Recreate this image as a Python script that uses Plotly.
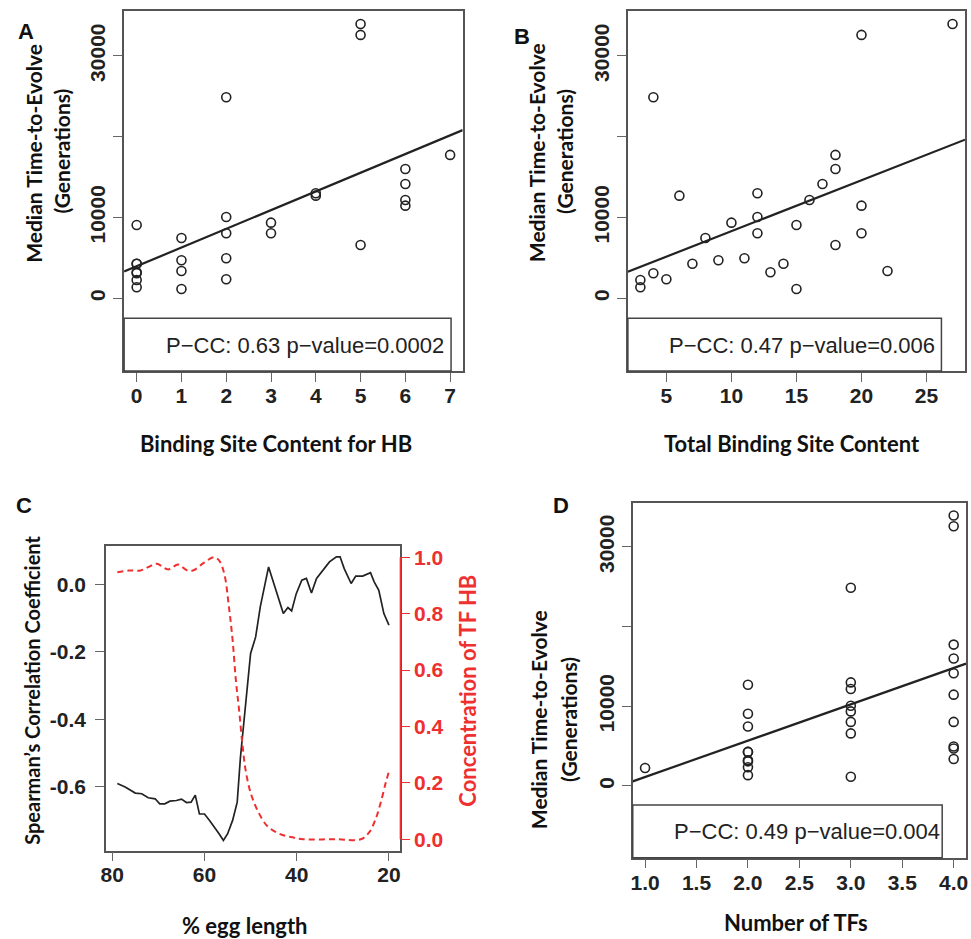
import numpy as np
import plotly.graph_objects as go

# ---------------- data ----------------
median_time = [9070, 4280, 4280, 3220, 3090, 2260, 1360, 7460, 4700, 3380, 1150,
               24880, 10060, 8040, 4950, 2350, 9360, 8040, 13000, 12700, 33950,
               32590, 6600, 16000, 14150, 12170, 11460, 17740]
hb_sites = [0, 0, 0, 0, 0, 0, 0, 1, 1, 1, 1, 2, 2, 2, 2, 2, 3, 3, 4, 4, 5, 5, 5,
            6, 6, 6, 6, 7]
total_sites = [15, 7, 14, 13, 4, 3, 3, 8, 9, 22, 15, 4, 12, 12, 11, 5, 10, 20, 12,
               6, 27, 20, 18, 18, 17, 16, 20, 18]
num_tfs = [2, 2, 2, 2, 2, 1, 2, 2, 4, 4, 3, 3, 3, 3, 4, 2, 3, 4, 3, 2, 4, 4, 3,
           4, 4, 3, 4, 4]

legend_a = "P\u2212CC: 0.63 p\u2212value=0.0002"
legend_b = "P\u2212CC: 0.47 p\u2212value=0.006"
legend_d = "P\u2212CC: 0.49 p\u2212value=0.004"

egg_len_cc = [78.9, 77.2, 75.0, 73.6, 72.2, 70.7, 69.7, 68.6, 67.5, 66.1, 65.0,
              63.9, 62.9, 62.0, 61.1, 60.0, 58.9, 57.9, 56.8, 55.9, 55.0, 53.9,
              52.9, 52.2, 51.1, 50.0, 48.9, 47.9, 46.1, 44.7, 43.9, 42.9, 41.9,
              41.1, 40.1, 38.9, 37.9, 36.8, 35.7, 34.3, 32.9, 31.4, 30.6, 29.7,
              28.2, 27.2, 25.7, 24.0, 23.2, 22.2, 21.1, 20.0]
spearman_cc = [-0.590, -0.600, -0.618, -0.620, -0.632, -0.635, -0.650, -0.650,
               -0.642, -0.640, -0.636, -0.646, -0.645, -0.624, -0.680, -0.680,
               -0.699, -0.717, -0.739, -0.758, -0.739, -0.699, -0.645, -0.512,
               -0.354, -0.205, -0.156, -0.067, 0.051, -0.008, -0.038, -0.087,
               -0.069, -0.079, -0.028, 0.012, 0.017, -0.026, 0.017, 0.041,
               0.066, 0.081, 0.081, 0.046, 0.002, 0.024, 0.024, 0.034, 0.007,
               -0.018, -0.087, -0.121]

egg_len_conc = [78.9, 76.4, 73.9, 72.2, 70.4, 67.9, 65.7, 63.9, 62.5, 60.0, 57.9,
                56.8, 55.7, 54.7, 53.9, 53.2, 52.5, 51.8, 51.1, 50.0, 48.6, 46.4,
                43.6, 40.7, 38.6, 31.4, 26.1, 24.3, 22.9, 21.8, 20.7, 20.0]
hb_conc = [0.947, 0.953, 0.953, 0.965, 0.977, 0.957, 0.974, 0.955, 0.953, 0.982,
           1.000, 0.988, 0.941, 0.824, 0.706, 0.565, 0.459, 0.341, 0.247, 0.165,
           0.106, 0.047, 0.018, 0.006, 0.000, 0.000, 0.000, 0.024, 0.071, 0.129,
           0.200, 0.241]

# ---------------- layout helpers ----------------
W, H = 971, 939


def fx(px):
    return px / W


def fy(py):
    return 1 - py / H


RED = "#ee3030"
INK = "#222222"
TITLE_FONT = dict(family="Lato, Open Sans, sans-serif", size=22, color="#111", weight="bold")
YTITLE_FONT = dict(TITLE_FONT, size=21)
CTITLE_FONT = dict(TITLE_FONT, size=20)
TICK_FONT = dict(family="Liberation Sans, Arial, sans-serif", size=21, color="#222", weight="bold")
LEG_FONT = dict(family="Liberation Sans, Arial, sans-serif", size=22, color="#222")

axis_style = dict(showline=True, linecolor="#555", linewidth=1.5, mirror=True,
                  ticks="outside", ticklen=9, tickwidth=1.3, tickcolor="#666",
                  showgrid=False, zeroline=False, tickfont=TICK_FONT)
xaxis_style = dict(axis_style, ticklabelstandoff=-4)

fig = go.Figure()

marker = dict(symbol="circle-open", size=9, color=INK, line=dict(width=1.6, color=INK))


def add_scatter(xs, ys, xa, ya, xr):
    fig.add_trace(go.Scatter(x=xs, y=ys, mode="markers", marker=marker,
                             xaxis=xa, yaxis=ya, showlegend=False))
    slope, icpt = np.polyfit(np.array(xs, float), np.array(ys, float), 1)
    lx = np.array(xr, float)
    fig.add_trace(go.Scatter(x=lx, y=icpt + slope * lx, mode="lines",
                             line=dict(color=INK, width=2.2),
                             xaxis=xa, yaxis=ya, showlegend=False))


YR = [-9000, 35550]
add_scatter(hb_sites, median_time, "x", "y", [-0.28, 7.28])
add_scatter(total_sites, median_time, "x2", "y2", [2.04, 27.96])
add_scatter(num_tfs, median_time, "x4", "y4", [0.88, 4.12])

# Panel C
fig.add_trace(go.Scatter(x=egg_len_cc, y=spearman_cc, mode="lines",
                         line=dict(color=INK, width=1.7), xaxis="x3", yaxis="y3",
                         showlegend=False))
fig.add_trace(go.Scatter(x=egg_len_conc, y=hb_conc, mode="lines",
                         line=dict(color=RED, width=2, dash="6px,4px", shape="spline"),
                         xaxis="x3", yaxis="y5", showlegend=False))

ytick_vals = [0, 10000, 20000, 30000]
ytick_text = ["0", "10000", "", "30000"]

fig.update_layout(
    width=W, height=H, margin=dict(l=0, r=0, t=0, b=0),
    paper_bgcolor="white", plot_bgcolor="white",
    xaxis=dict(xaxis_style, domain=[fx(120), fx(461)], range=[-0.28, 7.28],
               tickvals=list(range(8)), anchor="y"),
    yaxis=dict(axis_style, domain=[fy(371), fy(11)], range=YR, tickvals=ytick_vals,
               ticktext=ytick_text, tickangle=-90, anchor="x"),
    xaxis2=dict(xaxis_style, domain=[fx(627.4), fx(967)], range=[2.04, 27.96],
                tickvals=[5, 10, 15, 20, 25], anchor="y2"),
    yaxis2=dict(axis_style, domain=[fy(371), fy(11)], range=YR, tickvals=ytick_vals,
                ticktext=ytick_text, tickangle=-90, anchor="x2"),
    xaxis3=dict(xaxis_style, domain=[fx(101.7), fx(397.7)], range=[81.36, 17.64],
                tickvals=[80, 60, 40, 20], anchor="y3"),
    yaxis3=dict(axis_style, domain=[fy(850.5), fy(546)], range=[-0.788, 0.113],
                tickvals=[0, -0.2, -0.4, -0.6], ticktext=["0.0", "-0.2", "-0.4", "-0.6"],
                ticklabelstandoff=5, anchor="x3"),
    yaxis5=dict(overlaying="y3", side="right", anchor="x3", range=[-0.04, 1.04],
                showline=False, showgrid=False, zeroline=False, ticks="outside",
                ticklen=9, tickwidth=1.3, tickcolor=RED,
                tickvals=[0, 0.2, 0.4, 0.6, 0.8, 1.0],
                ticktext=["0.0", "0.2", "0.4", "0.6", "0.8", "1.0"],
                tickfont=dict(TICK_FONT, color=RED)),
    xaxis4=dict(xaxis_style, domain=[fx(632.3), fx(968)], range=[0.88, 4.12],
                tickvals=[1.0, 1.5, 2.0, 2.5, 3.0, 3.5, 4.0],
                ticktext=["1.0", "1.5", "2.0", "2.5", "3.0", "3.5", "4.0"], anchor="y4"),
    yaxis4=dict(axis_style, domain=[fy(857.7), fy(502.7)], range=YR, tickvals=ytick_vals,
                ticktext=ytick_text, tickangle=-90, anchor="x4"),
)

shapes = []
# legend boxes
for xa, ya, x1, y1 in [("x", "y", 0.9657, 0.1464), ("x2", "y2", 0.930, 0.1464),
                       ("x4", "y4", 0.9285, 0.1485)]:
    shapes.append(dict(type="rect", xref=f"{xa} domain", yref=f"{ya} domain",
                       x0=0, x1=x1, y0=0, y1=y1, line=dict(color="#444", width=1.5),
                       fillcolor="rgba(0,0,0,0)"))
# red right axis line of panel C (spans 0..1 only)
shapes.append(dict(type="line", xref="x3 domain", yref="y5", x0=1.002, x1=1.002,
                   y0=0, y1=1, line=dict(color=RED, width=1.5)))
fig.update_layout(shapes=shapes)

ann = []


def text(px, py, s, font, angle=0, xanchor="center"):
    ann.append(dict(x=fx(px), y=fy(py), xref="paper", yref="paper", text=s,
                    showarrow=False, font=font, textangle=angle,
                    xanchor=xanchor, yanchor="middle"))


letter_font = dict(family="Liberation Sans, Arial, sans-serif", size=22, color="#111",
                   weight="bold")
text(21, 31, "A", letter_font)
text(521, 37, "B", letter_font)
text(19, 505, "C", letter_font)
text(560, 505, "D", letter_font)

text(273, 443, "Binding Site Content for HB", TITLE_FONT)
text(792.5, 443, "Total Binding Site Content", TITLE_FONT)
text(241.7, 925, "% egg length", TITLE_FONT)
text(796.7, 922, "Number of TFs", TITLE_FONT)

text(28, 153, "Median Time-to-Evolve", YTITLE_FONT, -90)
text(56, 151, "(Generations)", YTITLE_FONT, -90)
text(535, 153, "Median Time-to-Evolve", YTITLE_FONT, -90)
text(563, 151, "(Generations)", YTITLE_FONT, -90)
text(537, 720, "Median Time-to-Evolve", YTITLE_FONT, -90)
text(567, 719, "(Generations)", YTITLE_FONT, -90)
text(27, 690, "Spearman\u2019s Correlation Coefficient", CTITLE_FONT, -90)
text(465, 691, "Concentration of TF HB", dict(TITLE_FONT, color=RED), -90)

text(160, 345, legend_a, LEG_FONT, xanchor="left")
text(667, 345, legend_b, LEG_FONT, xanchor="left")
text(672, 831, legend_d, LEG_FONT, xanchor="left")

fig.update_layout(annotations=ann)

fig.write_html("out.html", config={"displayModeBar": False},
               post_script="document.body.style.margin='0';document.body.style.overflow='hidden';")
